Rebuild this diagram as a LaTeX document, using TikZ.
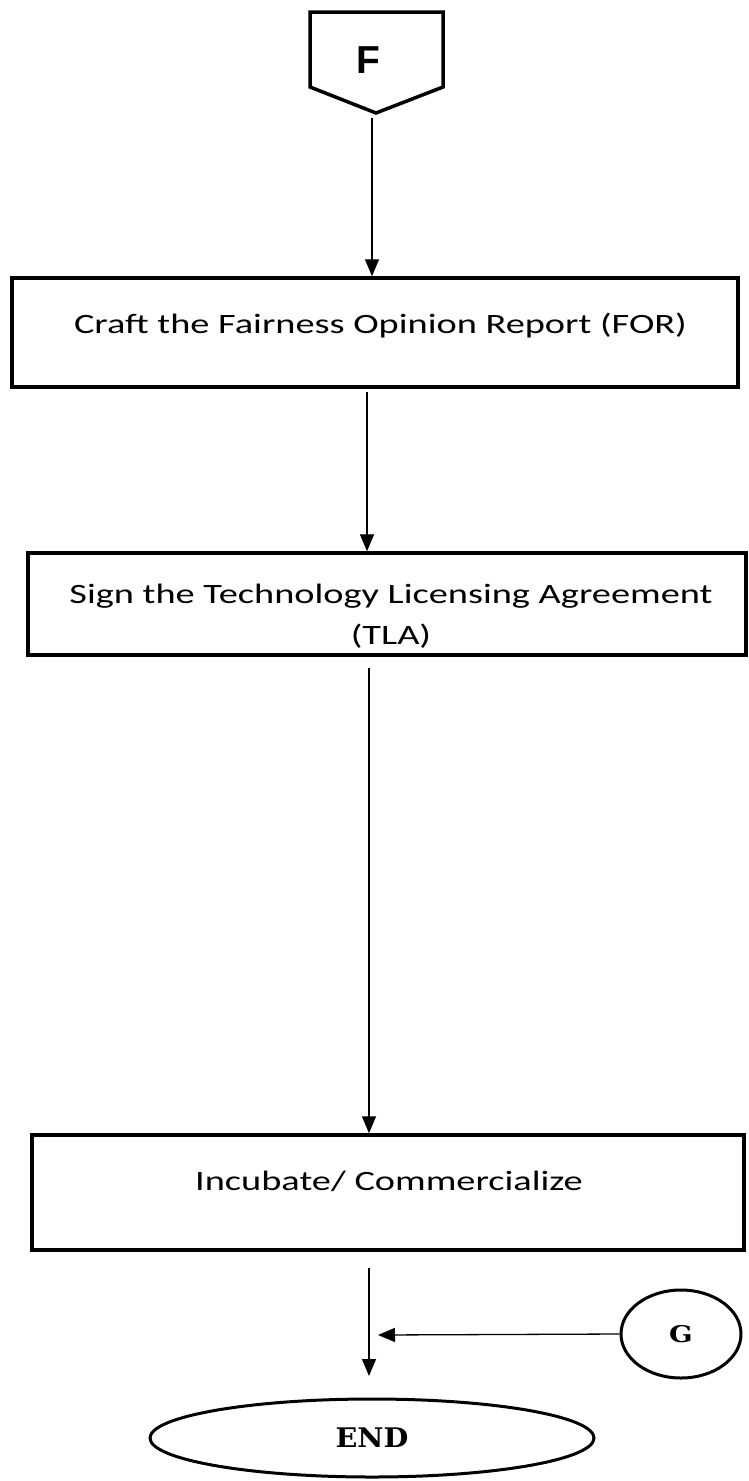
\documentclass[tikz,border=0pt]{standalone}
\usepackage{fontspec}
\usepackage{graphicx}
\setmainfont{Carlito}
\newfontfamily\headsans{Liberation Sans}
\newfontfamily\termserif{DejaVu Serif}
\newcommand\widetext[2][1.37]{\scalebox{#1}[1]{#2}}
\usetikzlibrary{arrows.meta,shapes.geometric}
\begin{document}
\begin{tikzpicture}[x=1pt,y=-1pt,
  stepbox/.style={draw,line width=3.5pt,rectangle,inner sep=0pt},
  steptext/.style={font=\fontsize{28}{41}\selectfont,inner sep=0pt},
  flow/.style={line width=1.3pt,-{Triangle[length=17pt,width=14pt]}},
  terminal/.style={draw,line width=3pt,ellipse,inner sep=0pt}]
\useasboundingbox (0,0) rectangle (748,1481);

% off-page connector F
\draw[line width=3.5pt,line join=miter] (310,12) -- (443,12) -- (443,87) -- (376,113) -- (310,87) -- cycle;
\node[font=\headsans\bfseries\fontsize{39}{45}\selectfont,anchor=base,inner sep=0pt] (F) at (368,73) {F};
\coordinate (Fout) at (372,118);

% process steps
\node[stepbox,minimum width=726pt,minimum height=109pt] (box1) at (375,332.5) {};
\node[steptext,anchor=base] (t1) at (380.5,333) {\widetext{Craft the Fairness Opinion Report (FOR)}};

\node[stepbox,minimum width=718pt,minimum height=102pt] (box2) at (387,604) {};
\node[steptext,anchor=north] (t2) at (391,574.3)
  {\widetext{\begin{tabular}{@{}c@{}}Sign the Technology Licensing Agreement\\(TLA)\end{tabular}}};

\node[stepbox,minimum width=712pt,minimum height=115pt] (box3) at (388,1192.5) {};
\node[steptext,anchor=base] (t3) at (389,1190) {\widetext{Incubate/ Commercialize}};

% connector G and terminal
\node[terminal,minimum width=120pt,minimum height=88pt,font=\termserif\bfseries\fontsize{23}{28}\selectfont] (G) at (681,1334) {\widetext[1.2]{G}};
\node[terminal,minimum width=444pt,minimum height=78pt,font=\termserif\bfseries\fontsize{27}{32}\selectfont] (END) at (372,1438) {\widetext[1.06]{END}};

% free ends of the flow lines
\coordinate (a2s) at (367,392);
\coordinate (a3s) at (369,668);
\coordinate (a4s) at (369,1268);
\coordinate (a4e) at (369,1376);
\coordinate (gin) at (378,1335);

\draw[flow] (Fout) -- (Fout |- box1.north);
\draw[flow] (a2s) -- (a2s |- box2.north);
\draw[flow] (a3s) -- (a3s |- box3.north);
\draw[flow] (a4s) -- (a4e);
\draw[flow] (G.west) -- (gin);
\end{tikzpicture}
\end{document}
